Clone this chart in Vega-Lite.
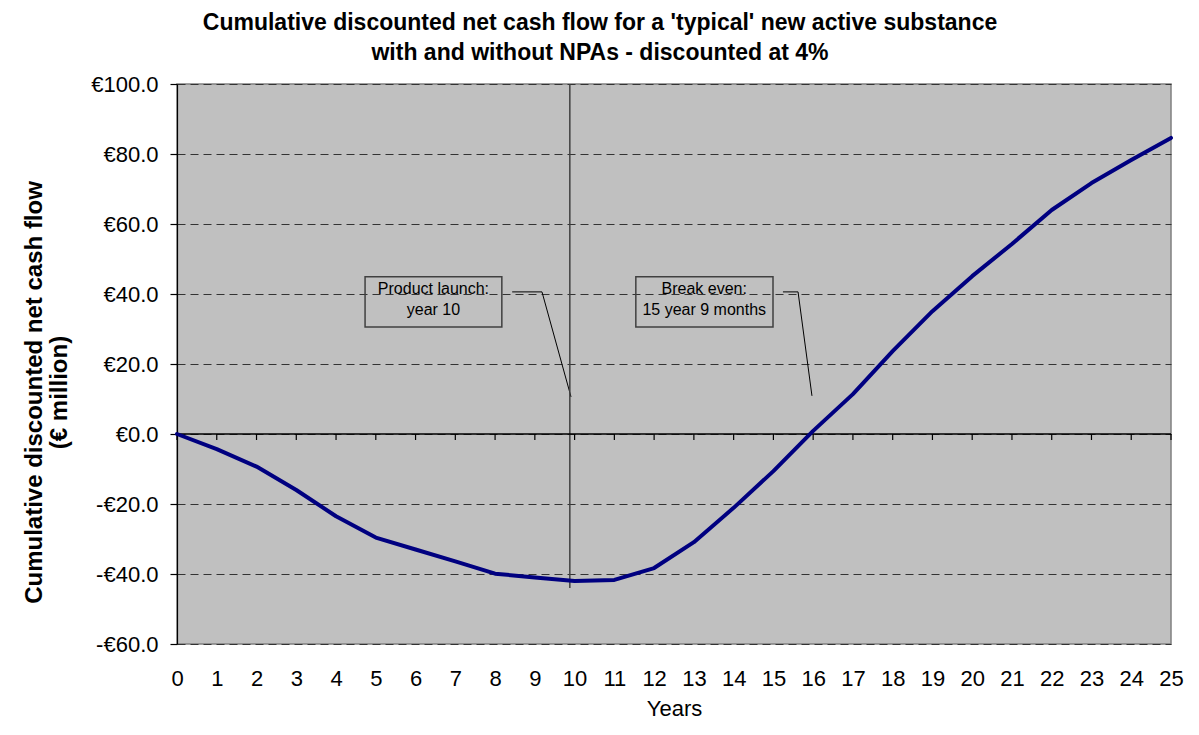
{
  "$schema": "https://vega.github.io/schema/vega-lite/v6.json",
  "autosize": "none",
  "width": 994,
  "height": 560,
  "padding": {"left": 177, "top": 84, "right": 28, "bottom": 91},
  "background": "white",
  "config": {
    "font": "Liberation Sans",
    "view": {"fill": "#c0c0c0", "stroke": "#808080", "strokeWidth": 1.5}
  },
  "title": {
    "text": ["Cumulative discounted net cash flow for a 'typical' new active substance", "with and without NPAs - discounted at 4%"],
    "fontSize": 23,
    "fontWeight": "bold",
    "font": "Liberation Sans",
    "color": "black",
    "lineHeight": 30,
    "anchor": "middle",
    "dx": -74,
    "offset": 8
  },
  "datasets": {
    "flow": [
      {"year": 0, "value": 0}, {"year": 1, "value": -4.3}, {"year": 2, "value": -9.3}, {"year": 3, "value": -16},
      {"year": 4, "value": -23.5}, {"year": 5, "value": -29.6}, {"year": 6, "value": -33}, {"year": 7, "value": -36.4},
      {"year": 8, "value": -39.9}, {"year": 9, "value": -41}, {"year": 10, "value": -42}, {"year": 11, "value": -41.7},
      {"year": 12, "value": -38.3}, {"year": 13, "value": -30.9}, {"year": 14, "value": -21.1}, {"year": 15, "value": -10.6},
      {"year": 16, "value": 0.9}, {"year": 17, "value": 11.4}, {"year": 18, "value": 23.7}, {"year": 19, "value": 35.1},
      {"year": 20, "value": 45.1}, {"year": 21, "value": 54.3}, {"year": 22, "value": 64}, {"year": 23, "value": 71.7},
      {"year": 24, "value": 78.3}, {"year": 25, "value": 84.6}
    ],
    "zeroticks": [
      {"year": 0, "value": 0}, {"year": 1, "value": 0}, {"year": 2, "value": 0}, {"year": 3, "value": 0},
      {"year": 4, "value": 0}, {"year": 5, "value": 0}, {"year": 6, "value": 0}, {"year": 7, "value": 0},
      {"year": 8, "value": 0}, {"year": 9, "value": 0}, {"year": 10, "value": 0}, {"year": 11, "value": 0},
      {"year": 12, "value": 0}, {"year": 13, "value": 0}, {"year": 14, "value": 0}, {"year": 15, "value": 0},
      {"year": 16, "value": 0}, {"year": 17, "value": 0}, {"year": 18, "value": 0}, {"year": 19, "value": 0},
      {"year": 20, "value": 0}, {"year": 21, "value": 0}, {"year": 22, "value": 0}, {"year": 23, "value": 0},
      {"year": 24, "value": 0}, {"year": 25, "value": 0}
    ],
    "boxes": [
      {"year": 4.73, "year2": 8.17, "value": 44.9, "value2": 30.6},
      {"year": 11.54, "year2": 14.99, "value": 44.9, "value2": 30.6}
    ],
    "labels": [
      {"year": 6.45, "value": 41.3, "text": "Product launch:"},
      {"year": 6.45, "value": 35.5, "text": "year 10"},
      {"year": 13.26, "value": 41.3, "text": "Break even:"},
      {"year": 13.26, "value": 35.5, "text": "15 year 9 months"}
    ],
    "leaders": [
      {"g": "a", "o": 1, "year": 8.43, "value": 40.6},
      {"g": "a", "o": 2, "year": 9.18, "value": 40.6},
      {"g": "a", "o": 3, "year": 9.91, "value": 10.6},
      {"g": "b", "o": 1, "year": 15.24, "value": 40.6},
      {"g": "b", "o": 2, "year": 15.62, "value": 40.6},
      {"g": "b", "o": 3, "year": 15.97, "value": 10.9}
    ],
    "launch": [{"year": 9.88, "value": 100, "value2": -44}],
    "zeroline": [{"year": 0, "year2": 25, "value": 0}]
  },
  "encoding": {
    "x": {
      "field": "year", "type": "quantitative", "title": "Years",
      "scale": {"domain": [0, 25], "nice": false, "zero": false},
      "axis": {
        "values": [0,1,2,3,4,5,6,7,8,9,10,11,12,13,14,15,16,17,18,19,20,21,22,23,24,25],
        "domain": false, "ticks": false, "grid": false, "labelOverlap": false, "labelSeparation": 0,
        "labelFontSize": 22, "labelColor": "black", "labelPadding": 24,
        "labelFont": "Liberation Sans", "labelFlush": false,
        "titleFontSize": 22, "titleFontWeight": "normal", "titleColor": "black", "titlePadding": 9,
        "titleFont": "Liberation Sans"
      }
    },
    "y": {
      "field": "value", "type": "quantitative",
      "title": ["Cumulative discounted net cash flow", "(€ million)"],
      "scale": {"domain": [-60, 100], "nice": false, "zero": false},
      "axis": {
        "values": [-60, -40, -20, 0, 20, 40, 60, 80, 100],
        "labelExpr": "(datum.value < 0 ? '-€' : '€') + format(abs(datum.value), '.1f')",
        "domain": true, "domainColor": "black", "domainWidth": 1.2,
        "ticks": true, "tickColor": "black", "tickSize": 7, "tickWidth": 1.2,
        "grid": true, "gridColor": "#333333", "gridDash": [8, 5], "gridWidth": 1,
        "labelFontSize": 22, "labelColor": "black", "labelPadding": 12,
        "labelFont": "Liberation Sans", "labelFlush": false,
        "titleFontSize": 24, "titleFontWeight": "bold", "titleColor": "black",
        "titleX": -131, "titleY": 308, "titleAngle": 270, "titleBaseline": "bottom", "titleAlign": "center",
        "titleFont": "Liberation Sans", "titleLineHeight": 25
      }
    }
  },
  "layer": [
    {
      "data": {"name": "boxes"},
      "mark": {"type": "rect", "fill": null, "fillOpacity": 0, "stroke": "#404040", "strokeWidth": 1.5},
      "encoding": {
        "x2": {"field": "year2"},
        "y2": {"field": "value2"}
      }
    },
    {
      "data": {"name": "labels"},
      "mark": {"type": "text", "fontSize": 16, "color": "black", "align": "center", "baseline": "middle"},
      "encoding": {
        "text": {"field": "text"}
      }
    },
    {
      "data": {"name": "leaders"},
      "mark": {"type": "line", "color": "black", "strokeWidth": 1},
      "encoding": {
        "detail": {"field": "g"},
        "order": {"field": "o"}
      }
    },
    {
      "data": {"name": "launch"},
      "mark": {"type": "rule", "color": "#404040", "strokeWidth": 1.5},
      "encoding": {
        "y2": {"field": "value2"}
      }
    },
    {
      "data": {"name": "zeroline"},
      "mark": {"type": "rule", "color": "black", "strokeWidth": 1.5},
      "encoding": {
        "x2": {"field": "year2"}
      }
    },
    {
      "data": {"name": "zeroticks"},
      "mark": {"type": "tick", "orient": "vertical", "color": "black", "size": 6, "thickness": 1.2, "yOffset": 3, "opacity": 1},
      "encoding": {}
    },
    {
      "data": {"name": "flow"},
      "mark": {"type": "line", "color": "#000080", "strokeWidth": 4, "strokeJoin": "round", "strokeCap": "round"},
      "encoding": {}
    }
  ]
}
